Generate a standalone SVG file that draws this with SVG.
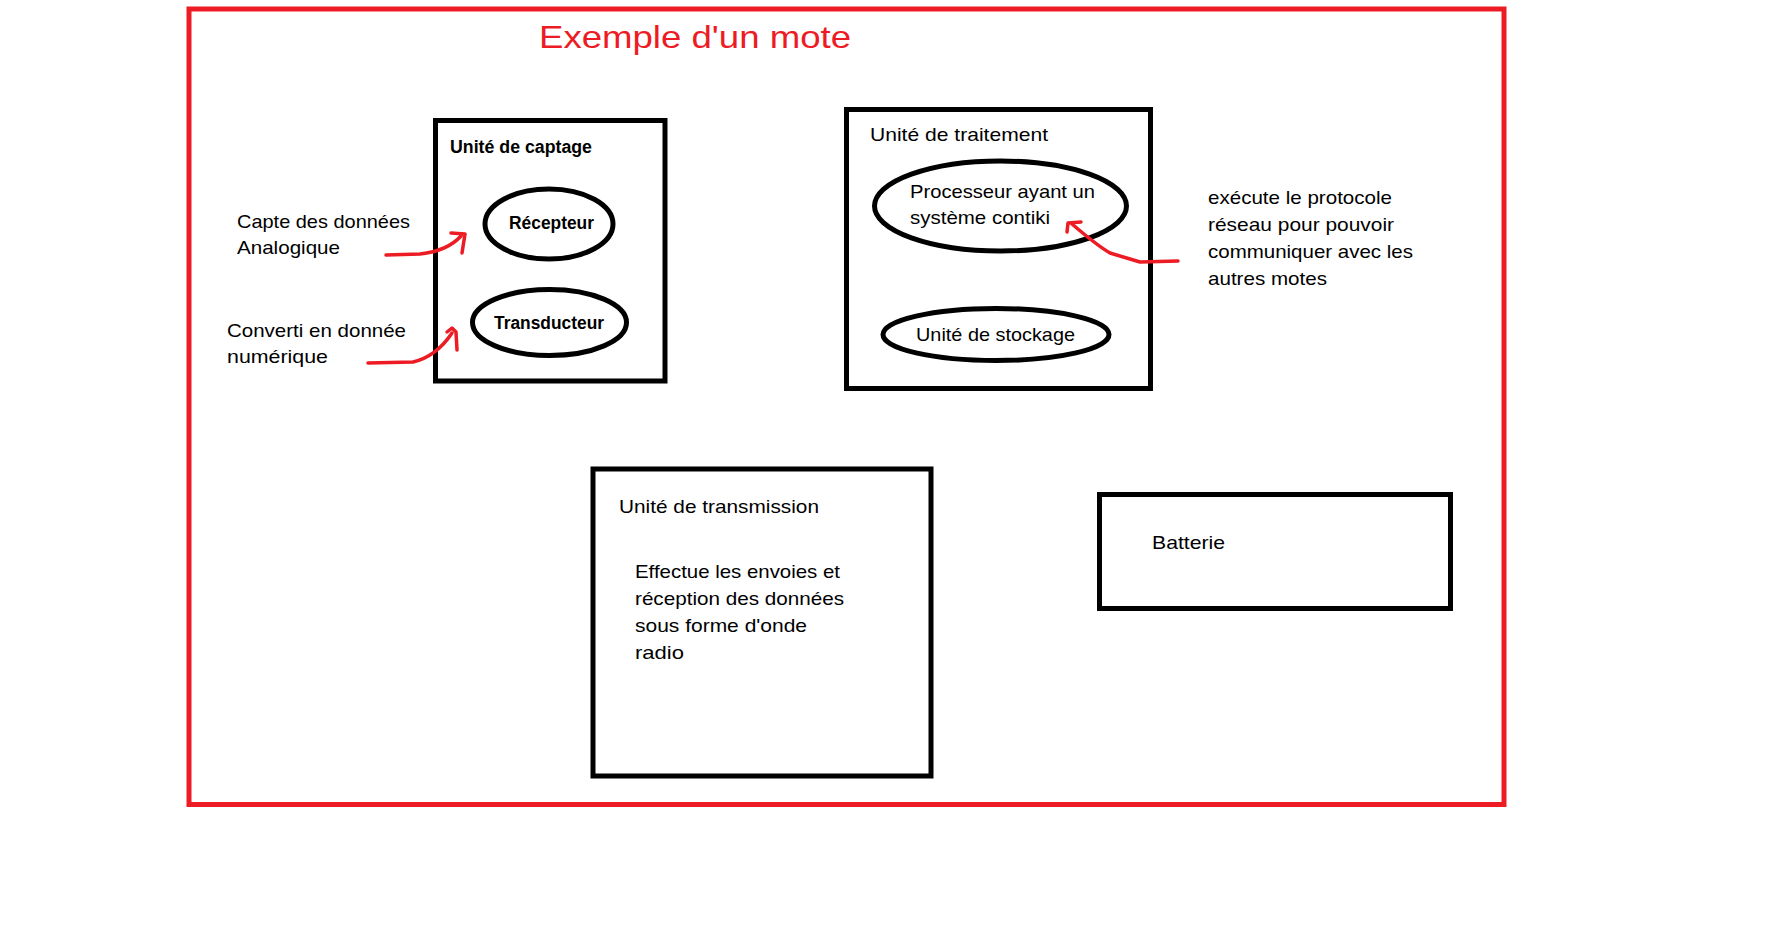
<svg xmlns="http://www.w3.org/2000/svg" width="1788" height="940" viewBox="0 0 1788 940">
<style>
.box{fill:none;stroke:#000;stroke-width:5}
.ell{fill:none;stroke:#000;stroke-width:5}
.frame{fill:none;stroke:#ED1C24;stroke-width:5}
.arrow{fill:none;stroke:#ED1C24;stroke-width:3.5;stroke-linecap:round;stroke-linejoin:round}
text{font-family:"Liberation Sans",Arial,sans-serif;font-size:19px;fill:#000}
.b{font-weight:bold;font-size:18px}
.title{font-size:32px;fill:#ED1C24}
</style>
<rect width="1788" height="940" fill="#fff"/>
<g id="mote">
<rect class="frame" x="189" y="9" width="1315" height="795.5"/>
<text class="title" x="539" y="48" textLength="312" lengthAdjust="spacingAndGlyphs">Exemple d'un mote</text>
</g>
<g id="captage">
<rect class="box" x="435.5" y="120.5" width="229.5" height="260.5"/>
<text class="b" x="450" y="153" textLength="142" lengthAdjust="spacingAndGlyphs">Unité de captage</text>
</g>
<g id="recepteur">
<ellipse class="ell" cx="549" cy="224" rx="64" ry="35"/>
<text class="b" x="509" y="229" textLength="85" lengthAdjust="spacingAndGlyphs">Récepteur</text>
</g>
<g id="transducteur">
<ellipse class="ell" cx="549.5" cy="322.5" rx="77" ry="33"/>
<text class="b" x="494" y="329" textLength="110" lengthAdjust="spacingAndGlyphs">Transducteur</text>
</g>
<g id="note-capte">
<text x="237" y="228" textLength="173" lengthAdjust="spacingAndGlyphs">Capte des données</text>
<text x="237" y="254" textLength="103" lengthAdjust="spacingAndGlyphs">Analogique</text>
</g>
<g id="note-converti">
<text x="227" y="337" textLength="179" lengthAdjust="spacingAndGlyphs">Converti en donnée</text>
<text x="227" y="363" textLength="101" lengthAdjust="spacingAndGlyphs">numérique</text>
</g>
<g id="traitement">
<rect class="box" x="846.5" y="109.5" width="304" height="279"/>
<text x="870" y="141" textLength="178" lengthAdjust="spacingAndGlyphs">Unité de traitement</text>
</g>
<g id="processeur">
<ellipse class="ell" cx="1000.5" cy="206" rx="126" ry="45"/>
<text x="910" y="198" textLength="185" lengthAdjust="spacingAndGlyphs">Processeur ayant un</text>
<text x="910" y="224" textLength="140" lengthAdjust="spacingAndGlyphs">système contiki</text>
</g>
<g id="stockage">
<ellipse class="ell" cx="996" cy="334.5" rx="113" ry="26"/>
<text x="916" y="341" textLength="159" lengthAdjust="spacingAndGlyphs">Unité de stockage</text>
</g>
<g id="note-protocole">
<text x="1208" y="204" textLength="184" lengthAdjust="spacingAndGlyphs">exécute le protocole</text>
<text x="1208" y="231" textLength="186" lengthAdjust="spacingAndGlyphs">réseau pour pouvoir</text>
<text x="1208" y="258" textLength="205" lengthAdjust="spacingAndGlyphs">communiquer avec les</text>
<text x="1208" y="285" textLength="119" lengthAdjust="spacingAndGlyphs">autres motes</text>
</g>
<g id="transmission">
<rect class="box" x="593" y="469" width="338" height="307"/>
<text x="619" y="513" textLength="200" lengthAdjust="spacingAndGlyphs">Unité de transmission</text>
<text x="635" y="578" textLength="205" lengthAdjust="spacingAndGlyphs">Effectue les envoies et</text>
<text x="635" y="605" textLength="209" lengthAdjust="spacingAndGlyphs">réception des données</text>
<text x="635" y="632" textLength="172" lengthAdjust="spacingAndGlyphs">sous forme d'onde</text>
<text x="635" y="659" textLength="49" lengthAdjust="spacingAndGlyphs">radio</text>
</g>
<g id="batterie">
<rect class="box" x="1099.5" y="494.5" width="351" height="114"/>
<text x="1152" y="549" textLength="73" lengthAdjust="spacingAndGlyphs">Batterie</text>
</g>
<g id="connectors">
<path class="arrow" d="M386,255 L420,254 C438,252 452,246 461,236"/>
<polyline class="arrow" points="451,233 465,234 462,253"/>
<path class="arrow" d="M368,363 L413,362 C430,358 442,348 452,333"/>
<polyline class="arrow" points="447,332 452,328 456,332 457,350"/>
<path class="arrow" d="M1178,261 L1140,262 L1130,259 L1110,253 C1098,246 1086,236 1072,224"/>
<polyline class="arrow" points="1067,232 1068,223 1081,222"/>
</g>
</svg>
